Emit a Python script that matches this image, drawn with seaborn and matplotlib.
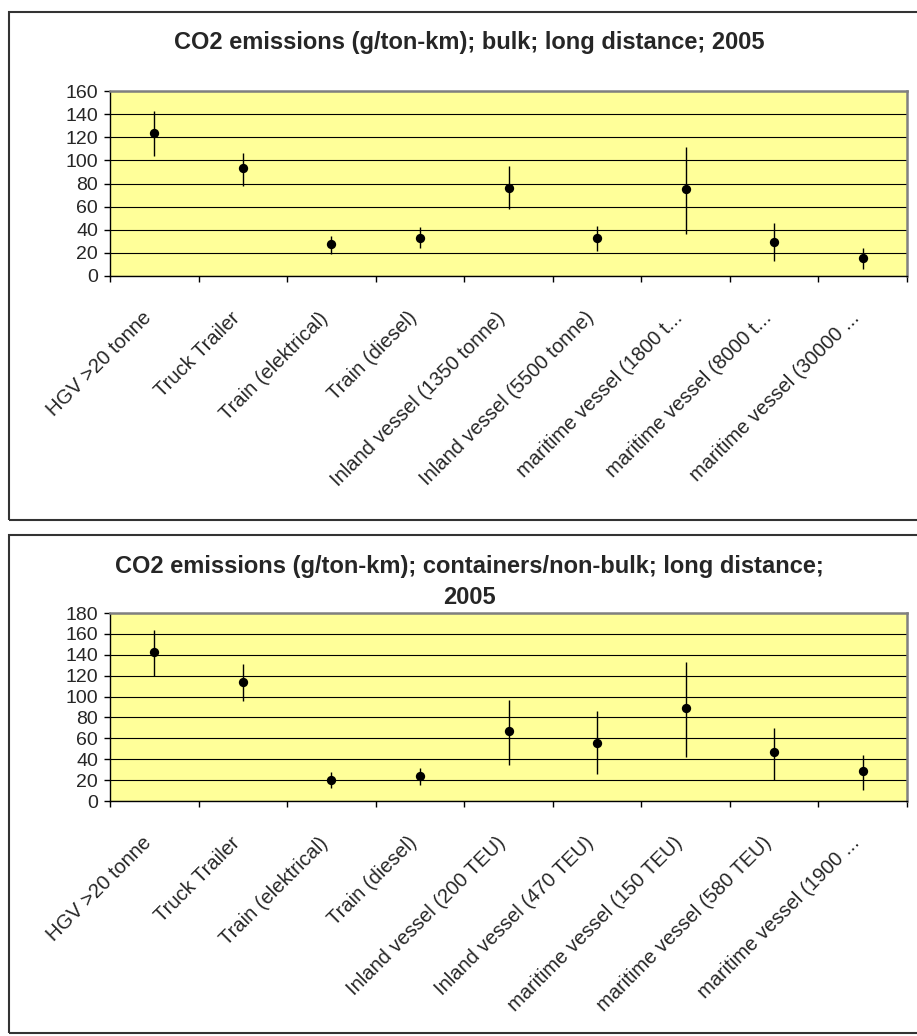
import numpy as np
import pandas as pd
import seaborn as sns
import matplotlib.pyplot as plt
from matplotlib.patches import Rectangle
from matplotlib.transforms import ScaledTranslation


bulk_labels = ["HGV >20 tonne", "Truck Trailer", "Train (elektrical)", "Train (diesel)",
               "Inland vessel (1350 tonne)", "Inland vessel (5500 tonne)",
               "maritime vessel (1800 t...", "maritime vessel (8000 t...", "maritime vessel (30000 ..."]
bulk_mid = [124, 93, 28, 33, 76, 33, 75, 29, 16]
bulk_low = [104, 78, 19, 24, 58, 22, 36, 13, 6]
bulk_high = [143, 106, 35, 42, 95, 43, 112, 46, 24]

cont_labels = ["HGV >20 tonne", "Truck Trailer", "Train (elektrical)", "Train (diesel)",
               "Inland vessel (200 TEU)", "Inland vessel (470 TEU)",
               "maritime vessel (150 TEU)", "maritime vessel (580 TEU)", "maritime vessel (1900 ..."]
cont_mid = [143, 114, 20, 24, 67, 56, 89, 47, 29]
cont_low = [120, 96, 12, 15, 34, 26, 42, 20, 11]
cont_high = [164, 131, 28, 32, 97, 86, 133, 70, 44]

bulk_title = "CO2 emissions (g/ton-km); bulk; long distance; 2005"
cont_title = "CO2 emissions (g/ton-km); containers/non-bulk; long distance;\n2005"

sns.set_style("ticks")
plt.rcParams["font.family"] = ["Liberation Sans", "DejaVu Sans"]

fig = plt.figure(figsize=(9.17, 10.36), dpi=100)


def draw(ax, labels, mid, low, high, ymax):
    df = pd.DataFrame({"mode": labels, "value": mid, "low": low, "high": high})
    pos = np.arange(len(df))
    ax.set_facecolor("#FFFF99")
    ax.vlines(pos, df["low"], df["high"], color="black", lw=1, zorder=3)
    sns.scatterplot(x=pos, y=df["value"], ax=ax, color="black", s=45,
                    edgecolor="black", linewidth=0, zorder=4)
    ax.set_xlim(-0.5, len(df) - 0.5)
    ax.set_ylim(0, ymax)
    ax.set_yticks(range(0, ymax + 1, 20))
    ax.yaxis.grid(True, color="black", lw=0.8)
    ax.set_axisbelow(True)
    ax.set_xlabel("")
    ax.set_ylabel("")

    ax.set_xticks(pos)
    ax.set_xticklabels(df["mode"], rotation=45, ha="right", va="center",
                       rotation_mode="anchor", fontsize=14.5)
    ax.set_xticks(np.arange(-0.5, len(df), 1), minor=True)
    ax.tick_params(axis="x", which="major", length=0, pad=0)
    ax.tick_params(axis="x", which="minor", length=4.5, width=1, color="black", direction="out", bottom=True)
    ax.tick_params(axis="y", length=4.5, width=1, color="black", direction="out", left=True,
                   labelsize=14, pad=4)
    offset = ScaledTranslation(-0.06, -0.39, fig.dpi_scale_trans)
    for lab in ax.get_xticklabels():
        lab.set_transform(lab.get_transform() + offset)

    for side in ["left", "bottom"]:
        ax.spines[side].set_color("black")
        ax.spines[side].set_linewidth(1)
    for side in ["top", "right"]:
        ax.spines[side].set_visible(True)
        ax.spines[side].set_color("#808080")
        ax.spines[side].set_linewidth(1.8)


W, H = 917, 1036

# outer chart boxes
fig.add_artist(Rectangle((9 / W, 1 - 520 / H), 1.0, (520 - 12) / H, transform=fig.transFigure,
                         fill=False, ec="#333333", lw=1.5))
fig.add_artist(Rectangle((9 / W, 1 - 1033 / H), 1.0, (1033 - 535) / H, transform=fig.transFigure,
                         fill=False, ec="#333333", lw=1.5))

ax1 = fig.add_axes([110 / W, 1 - 276 / H, 797 / W, 185 / H])
draw(ax1, bulk_labels, bulk_mid, bulk_low, bulk_high, 160)
fig.text(469 / W, 1 - 43 / H, bulk_title, ha="center", va="center", fontsize=17, fontweight="bold")

ax2 = fig.add_axes([110 / W, 1 - 801 / H, 797 / W, 188 / H])
draw(ax2, cont_labels, cont_mid, cont_low, cont_high, 180)
fig.text(469 / W, 1 - 582 / H, cont_title, ha="center", va="center", fontsize=17,
         fontweight="bold", linespacing=1.45)

plt.savefig("out.png", dpi=100)
